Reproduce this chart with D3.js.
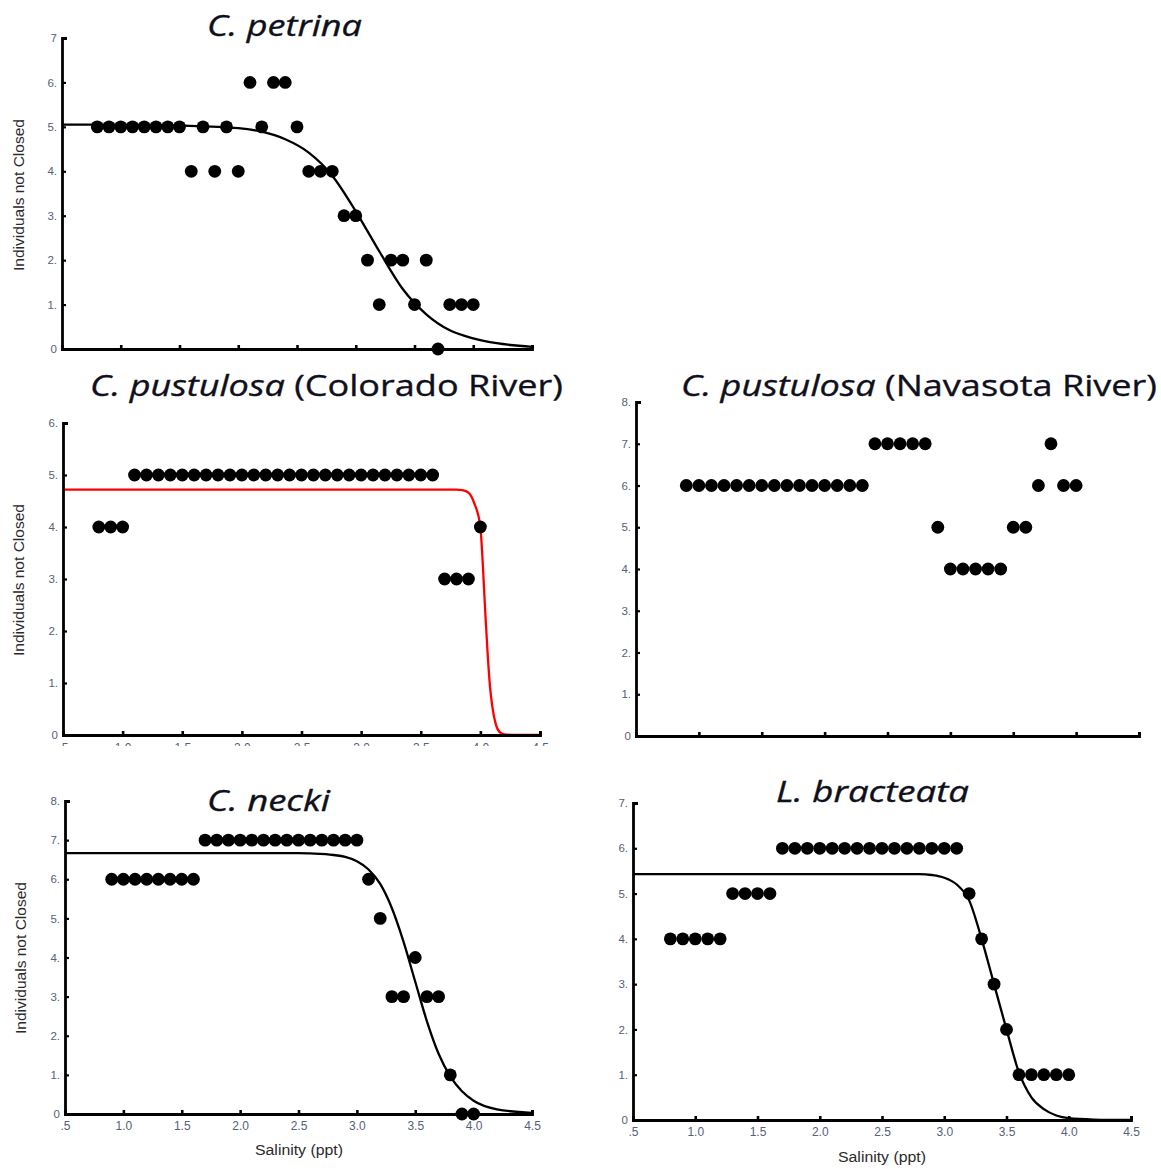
<!DOCTYPE html>
<html>
<head>
<meta charset="utf-8">
<script src="https://cdn.jsdelivr.net/npm/d3@7"></script>
<style>
  html, body { margin: 0; padding: 0; background: #fff; }
  svg { display: block; }
</style>
</head>
<body>
<svg id="chart" width="1161" height="1169"></svg>
<script>
// ---------------- DATA ----------------
const xTickValues = [0.5, 1.0, 1.5, 2.0, 2.5, 3.0, 3.5, 4.0, 4.5];
const xTickLabels = [".5", "1.0", "1.5", "2.0", "2.5", "3.0", "3.5", "4.0", "4.5"];

// C. petrina
const petrinaX = [0.8,0.9,1.0,1.1,1.2,1.3,1.4,1.5,1.6,1.7,1.8,1.9,2.0,2.1,2.2,2.3,2.4,2.5,2.6,2.7,2.8,2.9,3.0,3.1,3.2,3.3,3.4,3.5,3.6,3.7,3.8,3.9,4.0];
const petrinaY = [5,5,5,5,5,5,5,5,4,5,4,5,4,6,5,6,6,5,4,4,4,3,3,2,1,2,2,1,2,0,1,1,1];
const petrinaFitX = [0.5,1.0,1.5,2.0,2.2,2.4,2.6,2.8,3.0,3.2,3.4,3.6,3.8,4.0,4.2,4.5];
const petrinaFitY = [5.05,5.05,5.03,4.97,4.89,4.72,4.42,3.90,3.10,2.20,1.35,0.78,0.42,0.24,0.13,0.05];
const petrinaYLabels = ["0","1.","2.","3.","4.","5.","6.","7"];

// C. pustulosa (Colorado River)
const coloradoX = [0.8,0.9,1.0,1.1,1.2,1.3,1.4,1.5,1.6,1.7,1.8,1.9,2.0,2.1,2.2,2.3,2.4,2.5,2.6,2.7,2.8,2.9,3.0,3.1,3.2,3.3,3.4,3.5,3.6,3.7,3.8,3.9,4.0];
const coloradoY = [4,4,4,5,5,5,5,5,5,5,5,5,5,5,5,5,5,5,5,5,5,5,5,5,5,5,5,5,5,3,3,3,4];
const coloradoFitX = [0.5,3.8,3.85,3.9,3.95,4.0,4.02,4.04,4.06,4.08,4.1,4.13,4.16,4.2,4.3,4.5];
const coloradoFitY = [4.72,4.72,4.71,4.66,4.45,4.0,3.3,2.4,1.6,0.95,0.55,0.2,0.06,0.01,0,0];
const coloradoYLabels = ["0","1.","2.","3.","4.","5.","6."];

// C. pustulosa (Navasota River)
const navasotaX = [0.9,1.0,1.1,1.2,1.3,1.4,1.5,1.6,1.7,1.8,1.9,2.0,2.1,2.2,2.3,2.4,2.5,2.6,2.7,2.8,2.9,3.0,3.1,3.2,3.3,3.4,3.5,3.6,3.7,3.8,3.9,4.0];
const navasotaY = [6,6,6,6,6,6,6,6,6,6,6,6,6,6,6,7,7,7,7,7,5,4,4,4,4,4,5,5,6,7,6,6];
const navasotaYLabels = ["0","1.","2.","3.","4.","5.","6.","7.","8."];

// C. necki
const neckiX = [0.9,1.0,1.1,1.2,1.3,1.4,1.5,1.6,1.7,1.8,1.9,2.0,2.1,2.2,2.3,2.4,2.5,2.6,2.7,2.8,2.9,3.0,3.1,3.2,3.3,3.4,3.5,3.6,3.7,3.8,3.9,4.0];
const neckiY = [6,6,6,6,6,6,6,6,7,7,7,7,7,7,7,7,7,7,7,7,7,7,6,5,3,3,4,3,3,1,0,0];
const neckiFitX = [0.5,2.5,2.6,2.8,2.9,3.0,3.1,3.2,3.3,3.4,3.5,3.6,3.7,3.8,3.9,4.0,4.2,4.5];
const neckiFitY = [6.67,6.67,6.66,6.62,6.57,6.46,6.25,5.88,5.26,4.40,3.38,2.37,1.54,0.96,0.58,0.34,0.12,0.03];
const neckiYLabels = ["0","1.","2.","3.","4.","5.","6.","7.","8."];

// L. bracteata
const bracteataX = [0.8,0.9,1.0,1.1,1.2,1.3,1.4,1.5,1.6,1.7,1.8,1.9,2.0,2.1,2.2,2.3,2.4,2.5,2.6,2.7,2.8,2.9,3.0,3.1,3.2,3.3,3.4,3.5,3.6,3.7,3.8,3.9,4.0];
const bracteataY = [4,4,4,4,4,5,5,5,5,6,6,6,6,6,6,6,6,6,6,6,6,6,6,6,5,4,3,2,1,1,1,1,1];
const bracteataFitX = [0.5,2.8,2.9,3.0,3.1,3.2,3.3,3.4,3.5,3.6,3.7,3.8,3.9,4.0,4.2,4.5];
const bracteataFitY = [5.43,5.43,5.41,5.35,5.2,4.85,4.0,3.0,2.0,1.05,0.5,0.24,0.1,0.04,0.01,0];
const bracteataYLabels = ["0","1.","2.","3.","4.","5.","6.","7."];

const yAxisTitle = "Individuals not Closed";
const xAxisTitle = "Salinity (ppt)";

// ---------------- DRAW ----------------
const svg = d3.select("#chart");
const defs = svg.append("defs");

function drawPanel(o) {
  const x = d3.scaleLinear().domain([0.5, 4.5]).range([o.left, o.right]);
  const y = d3.scaleLinear().domain([0, o.yMax]).range([o.bottom, o.top]);
  const g = svg.append("g");

  // title
  const t = g.append("text")
    .attr("x", o.titleX).attr("y", o.titleY)
    .attr("textLength", o.titleW).attr("lengthAdjust", "spacingAndGlyphs")
    .style("font-family", "'Open Sans', 'Noto Sans', sans-serif")
    .style("font-size", "30px").style("fill", "#10101c")
    .style("stroke", "#10101c").style("stroke-width", 0.35);
  t.append("tspan").style("font-style", "italic").text(o.titleItalic);
  if (o.titleRest) t.append("tspan").text(o.titleRest);

  // curve
  if (o.fitX) {
    const pts = o.fitX.map((v, i) => [v, o.fitY[i]]);
    g.append("path")
      .datum(pts)
      .attr("fill", "none")
      .attr("stroke", o.fitColor)
      .attr("stroke-width", 2.3)
      .attr("d", d3.line().x(d => x(d[0])).y(d => y(d[1])).curve(d3.curveMonotoneX));
  }

  // points
  g.append("g").selectAll("circle")
    .data(o.px.map((v, i) => [v, o.py[i]]))
    .join("circle")
    .attr("cx", d => x(d[0])).attr("cy", d => y(d[1]))
    .attr("r", 6.4).attr("fill", "#000");

  // x axis
  const xa = d3.axisBottom(x).tickValues(xTickValues)
    .tickSizeInner(-4).tickSizeOuter(-4).tickPadding(o.xLabelPad || 8)
    .tickFormat((d, i) => o.xLabels ? xTickLabels[i] : "");
  const gx = g.append("g").attr("transform", `translate(0,${o.bottom})`).call(xa);
  gx.select(".domain").attr("stroke", "#000").attr("stroke-width", 2.8).attr("fill", "none");
  gx.selectAll(".tick line").attr("stroke", "#000").attr("stroke-width", 2.6);
  gx.selectAll(".tick text").style("font-family", "Arial, 'Liberation Sans', sans-serif")
    .style("font-size", "12px").style("fill", "#55607a");
  if (o.clipXLabels) {
    const id = "clip" + Math.round(o.left) + Math.round(o.top);
    defs.append("clipPath").attr("id", id).append("rect")
      .attr("x", o.left - 30).attr("y", -10).attr("width", o.right - o.left + 60).attr("height", o.clipXLabels + 10);
    gx.attr("clip-path", `url(#${id})`);
  }

  // y axis
  const yTicks = d3.range(0, o.yMax + 1);
  const ya = d3.axisLeft(y).tickValues(yTicks)
    .tickSizeInner(-4).tickSizeOuter(-5).tickPadding(5)
    .tickFormat((d, i) => o.yLabels[i]);
  const gy = g.append("g").attr("transform", `translate(${o.left},0)`).call(ya);
  gy.select(".domain").attr("stroke", "#000").attr("stroke-width", 2.8).attr("fill", "none");
  gy.selectAll(".tick line").attr("stroke", "#000").attr("stroke-width", 2.2);
  gy.selectAll(".tick text").style("font-family", "Arial, 'Liberation Sans', sans-serif")
    .style("font-size", "11.5px").style("fill", "#55607a");

  // y axis title
  if (o.yTitle) {
    g.append("text")
      .attr("transform", `translate(${o.yTitleX},${o.yTitleY}) rotate(-90)`)
      .attr("text-anchor", "middle")
      .attr("textLength", 152).attr("lengthAdjust", "spacingAndGlyphs")
      .style("font-family", "Arial, 'Liberation Sans', sans-serif")
      .style("font-size", "14px").style("fill", "#2a2a2a")
      .text(yAxisTitle);
  }
  // x axis title
  if (o.xTitle) {
    g.append("text")
      .attr("x", o.xTitleX).attr("y", o.xTitleY)
      .attr("text-anchor", "middle")
      .attr("textLength", 88).attr("lengthAdjust", "spacingAndGlyphs")
      .style("font-family", "Arial, 'Liberation Sans', sans-serif")
      .style("font-size", "14px").style("fill", "#2a2a2a")
      .text(xAxisTitle);
  }
}

drawPanel({
  left: 62, right: 532, top: 38, bottom: 349, yMax: 7,
  px: petrinaX, py: petrinaY, fitX: petrinaFitX, fitY: petrinaFitY, fitColor: "#000",
  yLabels: petrinaYLabels, xLabels: false,
  titleItalic: "C. petrina", titleRest: "", titleX: 207, titleY: 36, titleW: 155,
  yTitle: true, yTitleX: 24, yTitleY: 195
});

drawPanel({
  left: 63, right: 540, top: 423, bottom: 735, yMax: 6,
  px: coloradoX, py: coloradoY, fitX: coloradoFitX, fitY: coloradoFitY, fitColor: "#ff0000",
  yLabels: coloradoYLabels, xLabels: true, clipXLabels: 11, xLabelPad: 8,
  titleItalic: "C. pustulosa", titleRest: " (Colorado River)", titleX: 90, titleY: 396, titleW: 473,
  yTitle: true, yTitleX: 24, yTitleY: 580
});

drawPanel({
  left: 636, right: 1139, top: 402, bottom: 736, yMax: 8,
  px: navasotaX, py: navasotaY,
  yLabels: navasotaYLabels, xLabels: false,
  titleItalic: "C. pustulosa", titleRest: " (Navasota River)", titleX: 681, titleY: 396, titleW: 476,
  yTitle: false
});

drawPanel({
  left: 65, right: 532, top: 801, bottom: 1114, yMax: 8,
  px: neckiX, py: neckiY, fitX: neckiFitX, fitY: neckiFitY, fitColor: "#000",
  yLabels: neckiYLabels, xLabels: true, xLabelPad: 7,
  titleItalic: "C. necki", titleRest: "", titleX: 207, titleY: 811, titleW: 123,
  yTitle: true, yTitleX: 26, yTitleY: 958,
  xTitle: true, xTitleX: 299, xTitleY: 1155
});

drawPanel({
  left: 633, right: 1131, top: 803, bottom: 1120, yMax: 7,
  px: bracteataX, py: bracteataY, fitX: bracteataFitX, fitY: bracteataFitY, fitColor: "#000",
  yLabels: bracteataYLabels, xLabels: true, xLabelPad: 7,
  titleItalic: "L. bracteata", titleRest: "", titleX: 776, titleY: 802, titleW: 193,
  yTitle: false,
  xTitle: true, xTitleX: 882, xTitleY: 1162
});
</script>
</body>
</html>
